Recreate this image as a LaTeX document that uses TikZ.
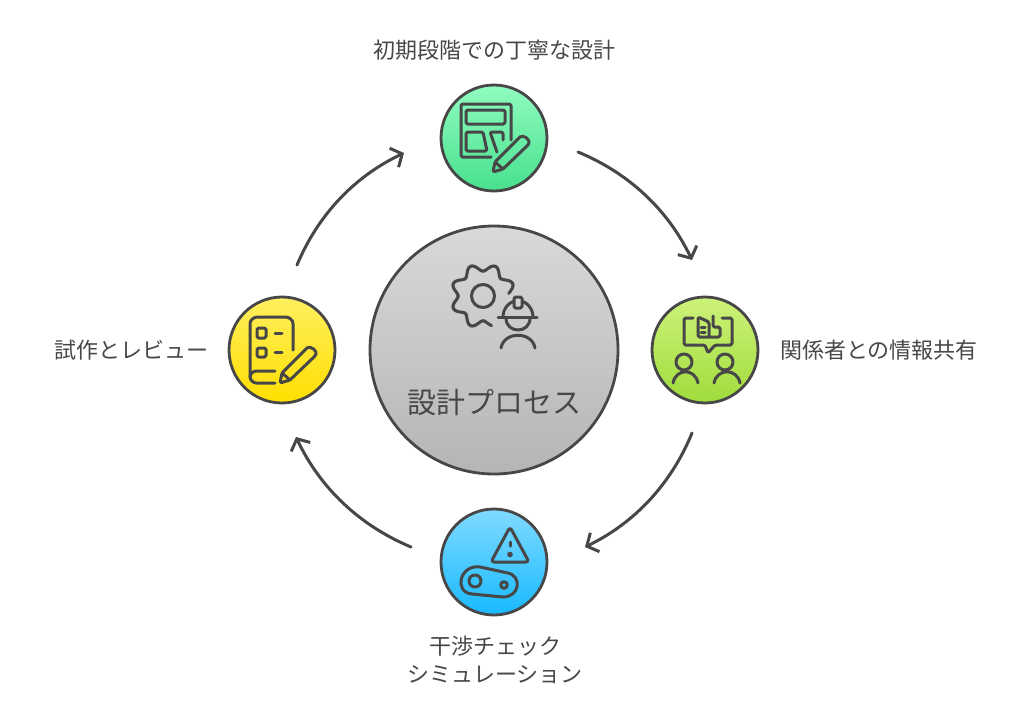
\documentclass[tikz,border=0pt]{standalone}
\usepackage{fontspec}
\setmainfont{Noto Sans CJK JP}
\usetikzlibrary{arrows.meta}
\definecolor{inkgray}{HTML}{474747}
\tikzset{
    stepdisc/.style={circle, draw=inkgray, line width=2.8pt, minimum size=106pt, inner sep=0pt},
    hubdisc/.style={circle, draw=inkgray, line width=2.8pt, minimum size=248pt, inner sep=0pt, top color=hubtop, bottom color=hubbot},
    steplabel/.style={text=inkgray, font=\fontsize{22}{28}\selectfont, align=center, inner sep=0pt},
    flowarrow/.style={draw=inkgray, line width=3pt, line cap=round, -{Straight Barb[length=9pt, width=21pt, line width=3pt]}},
    iconline/.style={draw=inkgray, line width=3pt, line cap=round, line join=round, rounded corners=1.5pt},
    pencil/.pic={
        \draw[iconline] (0,0) -- (2,-10) -- (26,-34) .. controls (30,-38) and (38,-32) .. (35,-27) -- (10,-3) -- cycle;
        \draw[iconline] (2,-10) -- (10,-3);
    }
}
\definecolor{hubtop}{HTML}{D9D9D9}
\definecolor{hubbot}{HTML}{B5B5B5}
\definecolor{designtop}{HTML}{90FCC0}
\definecolor{designbot}{HTML}{48E08E}
\definecolor{sharetop}{HTML}{CDF27A}
\definecolor{sharebot}{HTML}{A0DC3C}
\definecolor{simtop}{HTML}{80DAFF}
\definecolor{simbot}{HTML}{18BAFF}
\definecolor{revtop}{HTML}{FFEF60}
\definecolor{revbot}{HTML}{FFDF00}
\begin{document}
\begin{tikzpicture}[x=1pt, y=-1pt]
    \useasboundingbox (0,0) rectangle (1024,721);

    % discs
    \node[hubdisc] (hub) at (494,350) {};
    \node[stepdisc, top color=designtop, bottom color=designbot] (design) at (494,138) {};
    \node[stepdisc, top color=sharetop, bottom color=sharebot] (share) at (705,350) {};
    \node[stepdisc, top color=simtop, bottom color=simbot] (sim) at (494,562) {};
    \node[stepdisc, top color=revtop, bottom color=revbot] (rev) at (282,350) {};

    % labels
    \node[steplabel, font=\fontsize{29}{34}\selectfont] (hubtext) at (494,403) {設計プロセス};
    \node[steplabel] (designtext) at (494,50) {初期段階での丁寧な設計};
    \node[steplabel, anchor=west] (sharetext) at (780,350) {関係者との情報共有};
    \node[steplabel] (simtext) at (495,659.5) {干渉チェック\\シミュレーション};
    \node[steplabel, anchor=east] (revtext) at (209,350) {試作とレビュー};

    % arrows
    \coordinate (a1) at (578,152);
    \coordinate (a2) at (692,260);
    \coordinate (b1) at (692,433);
    \coordinate (b2) at (585,547);
    \coordinate (c1) at (411,547);
    \coordinate (c2) at (296,437);
    \coordinate (d1) at (297,265);
    \coordinate (d2) at (404,153);
    \draw[flowarrow] (a1) to[bend left=21, looseness=.9] (a2);
    \draw[flowarrow] (b1) to[bend left=21, looseness=.9] (b2);
    \draw[flowarrow] (c1) to[bend left=21, looseness=.9] (c2);
    \draw[flowarrow] (d1) to[bend left=21, looseness=.9] (d2);

    % hub icon
    \draw[iconline] (483,296) circle (11.5);
    \draw[iconline] plot[domain=6:286, samples=140] ({483+(28.5+3.7*cos(8*(\x-67.5)))*cos(\x)}, {296-(28.5+3.7*cos(8*(\x-67.5)))*sin(\x)});
    \draw[iconline] (503,317) .. controls (503,308) and (510,301) .. (518,301) .. controls (526,301) and (533,308) .. (533,317);
    \draw[iconline] (498,317) -- (537,317);
    \draw[iconline] (506,318) .. controls (506,334) and (530,334) .. (530,318);
    \draw[iconline, fill=hubtop!85!hubbot] (514,297) rectangle (522,308);
    \draw[iconline] (501,348) .. controls (504,331) and (532,331) .. (535,348);

    % design icon
    \draw[iconline] (491,157) -- (461,157) -- (461,104) -- (511,104) -- (511,140);
    \draw[iconline] (466,110) rectangle (505,124);
    \draw[iconline] (466,132) -- (483,132) -- (487,151) -- (466,151) -- cycle;
    \draw[iconline] (497,152) -- (490,132) -- (503,132) -- (503,140);
    \pic at (493,172) {pencil};

    % share icon
    \draw[iconline] (693,318) -- (684,318) -- (684,345) -- (705,345) -- (708,353) -- (715,345) -- (732,345) -- (732,318) -- (722,318);
    \draw[iconline] (713,316) -- (713,327) -- (720,327) -- (720,337) -- (698,337) -- (698,317) -- (709,322) -- (709,337);
    \draw[iconline] (701,327) -- (705,327);
    \draw[iconline] (701,332) -- (705,332);
    \draw[iconline] (684,362) circle (8);
    \draw[iconline] (725,362) circle (8);
    \draw[iconline] (673,383) .. controls (676,368) and (695,368) .. (698,383);
    \draw[iconline] (714,383) .. controls (717,368) and (737,368) .. (740,383);

    % sim icon
    \draw[iconline, rounded corners=3pt] (510,527) -- (491,562) -- (529,562) -- cycle;
    \draw[iconline] (510,542) -- (510,546);
    \fill[inkgray] (510,554.5) circle (2.8);
    \draw[iconline, sharp corners] (480,567) -- (508,573) .. controls (522,576) and (520,597) .. (503,597) -- (472,594) .. controls (453,592) and (460,564) .. (480,567) -- cycle;
    \draw[iconline] (475,581) circle (6);
    \draw[iconline] (504,585) circle (3.3);

    % rev icon
    \draw[iconline] (293,350) -- (293,325) .. controls (293,320) and (289,317) .. (284,317) -- (259,317) .. controls (254,317) and (250,320) .. (250,325) -- (250,375) .. controls (250,380) and (253,383) .. (258,383) -- (275,383);
    \draw[iconline] (275,371) -- (258,371) .. controls (253,371) and (250,374) .. (250,377);
    \draw[iconline] (257,328) rectangle (266,338);
    \draw[iconline] (257,348) rectangle (266,357);
    \draw[iconline] (275,333) -- (282,333);
    \draw[iconline] (275,352) -- (282,352);
    \pic at (280,383) {pencil};
\end{tikzpicture}
\end{document}
